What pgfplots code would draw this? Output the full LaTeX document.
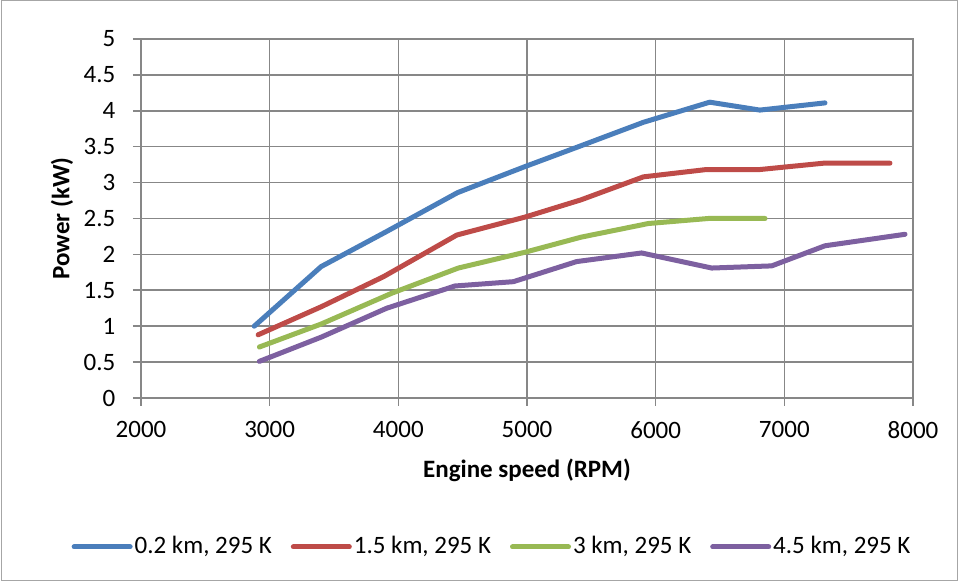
\documentclass[border=0pt]{standalone}
\usepackage{pgfplots}
\pgfplotsset{compat=1.18}
\usepackage{fontspec}
\setmainfont{Carlito}
\definecolor{c1}{HTML}{4A7EBB}
\definecolor{c2}{HTML}{BE4B48}
\definecolor{c3}{HTML}{98B954}
\definecolor{c4}{HTML}{7D60A0}
\definecolor{gridc}{HTML}{878787}
\begin{document}
\fontsize{12.5pt}{15pt}\selectfont
\begin{tikzpicture}
\path[use as bounding box] (0,0) rectangle (479.5pt,291pt);
\draw[draw=gray!70, line width=0.5pt] (0.5pt,0.5pt) rectangle (478.5pt,290.5pt);
\begin{axis}[
  at={(70.5pt,92pt)}, anchor=south west,
  scale only axis, width=386pt, height=179.5pt,
  xmin=2000, xmax=8000, ymin=0, ymax=5,
  xtick={2000,3000,...,8000},
  ytick={0,0.5,...,5},
  yticklabels={0,0.5,1,1.5,2,2.5,3,3.5,4,4.5,5},
  scaled ticks=false,
  /pgf/number format/.cd, 1000 sep={}, assume math mode=true, /pgfplots/.cd,
  grid=major,
  grid style={gridc, line width=0.8pt},
  axis line style={gridc, line width=0.8pt},
  tick style={gridc, line width=0.8pt},
  major tick length=4pt,
  tick align=outside,
  tick pos=left,
  xticklabel style={font=\fontsize{12.5pt}{15pt}\selectfont, yshift=-3.5pt},
  yticklabel style={font=\fontsize{12.5pt}{15pt}\selectfont, xshift=-4.5pt},
  xlabel={\textbf{Engine speed (RPM)}},
  ylabel={\textbf{Power (kW)}},
  xlabel style={at={(axis description cs:0.5,-0.2006)}, anchor=center},
  ylabel style={at={(axis description cs:-0.1023,0.5)}, anchor=center},
  legend columns=4,
  legend style={at={(axis description cs:0.4547,-0.415)}, anchor=center,
    draw=none, fill=none, font=\fontsize{12.5pt}{15pt}\selectfont,
    nodes={inner xsep=1pt},
    /tikz/every even column/.append style={column sep=8.5pt}},
  legend image code/.code={\draw[#1, line cap=round] (0pt,0pt) -- (28pt,0pt);},
  every axis plot/.append style={line width=2.5pt, line join=round, line cap=round},
]
\addplot[c1] coordinates {(2880,1.00) (3400,1.83) (3910,2.32) (4460,2.86) (4980,3.22) (5400,3.50) (5905,3.84) (6420,4.12) (6810,4.01) (7316,4.11)};
\addlegendentry{0.2 km, 295 K}
\addplot[c2] coordinates {(2910,0.88) (3400,1.27) (3885,1.69) (4455,2.27) (4985,2.52) (5420,2.76) (5905,3.08) (6385,3.18) (6800,3.18) (7303,3.27) (7821,3.27)};
\addlegendentry{1.5 km, 295 K}
\addplot[c3] coordinates {(2920,0.71) (3400,1.03) (3950,1.46) (4466,1.81) (4984,2.03) (5420,2.24) (5943,2.43) (6409,2.50) (6850,2.50)};
\addlegendentry{3 km, 295 K}
\addplot[c4] coordinates {(2920,0.51) (3404,0.85) (3909,1.25) (4440,1.56) (4894,1.62) (5386,1.90) (5891,2.02) (6436,1.81) (6902,1.84) (7316,2.12) (7938,2.28)};
\addlegendentry{4.5 km, 295 K}
\end{axis}
\end{tikzpicture}
\end{document}
